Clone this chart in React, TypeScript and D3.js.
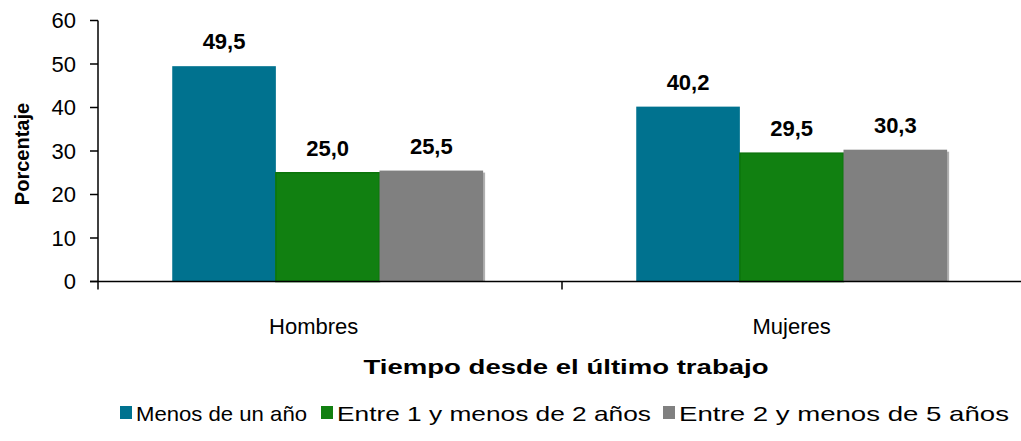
import React from "react";
import * as d3 from "d3";

const categories = ["Hombres", "Mujeres"];
const seriesNames = ["Menos de un año", "Entre 1 y menos de 2 años", "Entre 2 y menos de 5 años"];
const menosUnAno = [49.5, 40.2];
const entre1y2 = [25.0, 29.5];
const entre2y5 = [25.5, 30.3];
const yTicks = [0, 10, 20, 30, 40, 50, 60];

const colors = ["#00728F", "#118011", "#808080"];
const strokes = ["#00728F", "#0B740B", "#7A7A7A"];

export default function App() {
  const W = 1021, H = 441;
  const left = 98, right = 1026, top = 20.5, bottom = 281.5;
  const series = [menosUnAno, entre1y2, entre2y5];
  const x0 = d3.scaleBand<string>().domain(categories).range([left, right]).padding(0);
  const bw = x0.bandwidth();
  const x1 = d3.scaleBand<number>().domain([0, 1, 2]).range([bw * 0.16, bw * 0.83]).padding(0);
  const y = d3.scaleLinear().domain([0, 60]).range([bottom, top]);
  const font = "'Liberation Sans', Arial, sans-serif";
  const fmt = (v: number) => v.toFixed(1).replace(".", ",");

  const legendItems = [
    { x: 120, w: 171 },
    { x: 321, w: 314 },
    { x: 663, w: 330 },
  ];

  return (
    <svg width={W} height={H} style={{ position: "absolute", left: 0, top: 0 }} fontFamily={font}>
      <rect width={W} height={H} fill="#fff" />
      {categories.map((c, ci) =>
        series.map((s, si) => {
          const bx = (x0(c) as number) + (x1(si) as number);
          const w = x1.bandwidth();
          return (
            <g key={c + si}>
              {si === 2 && (
                <rect x={bx + 2} y={y(s[ci]) + 2} width={w} height={bottom - y(s[ci]) - 2} fill="#b0b0b0" />
              )}
              <rect x={bx} y={y(s[ci])} width={w} height={bottom - y(s[ci])} fill={colors[si]}
                stroke={si === 1 ? strokes[si] : "none"} strokeWidth={si === 1 ? 1.5 : 0} />
              <text x={bx + w / 2} y={y(s[ci]) - 17} textAnchor="middle" fontSize={22} fontWeight="bold" fill="#000">
                {fmt(s[ci])}
              </text>
            </g>
          );
        })
      )}
      <line x1={left} x2={left} y1={top} y2={bottom + 8} stroke="#000" strokeWidth={1.5} />
      <line x1={left - 8} x2={right} y1={bottom} y2={bottom} stroke="#000" strokeWidth={1.5} />
      {yTicks.map((t) => (
        <g key={t}>
          <line x1={left - 8} x2={left} y1={y(t)} y2={y(t)} stroke="#000" strokeWidth={1.5} />
          <text x={left - 22} y={y(t)} dy="0.36em" textAnchor="end" fontSize={22} fill="#000">{t}</text>
        </g>
      ))}
      {categories.slice(1).map((c) => (
        <line key={c} x1={x0(c) as number} x2={x0(c) as number} y1={bottom} y2={bottom + 8} stroke="#000" strokeWidth={1.5} />
      ))}
      {categories.map((c, ci) => (
        <text key={c} x={(x0(c) as number) + bw * 0.495 - (ci === 0 ? 14 : 0)} y={334} textAnchor="middle" fontSize={22} fill="#000">{c}</text>
      ))}
      <text x={566} y={374} textAnchor="middle" fontSize={20} fontWeight="bold" fill="#000"
        textLength={405} lengthAdjust="spacingAndGlyphs">
        Tiempo desde el último trabajo
      </text>
      <text transform={`translate(29,154) rotate(-90)`} textAnchor="middle" fontSize={20} fontWeight="bold" fill="#000">
        Porcentaje
      </text>
      {seriesNames.map((n, i) => (
        <g key={n}>
          <rect x={legendItems[i].x} y={406} width={12} height={13} fill={colors[i]} />
          <text x={legendItems[i].x + 16} y={421} fontSize={21} fill="#000" textLength={legendItems[i].w} lengthAdjust="spacingAndGlyphs">{n}</text>
        </g>
      ))}
    </svg>
  );
}
